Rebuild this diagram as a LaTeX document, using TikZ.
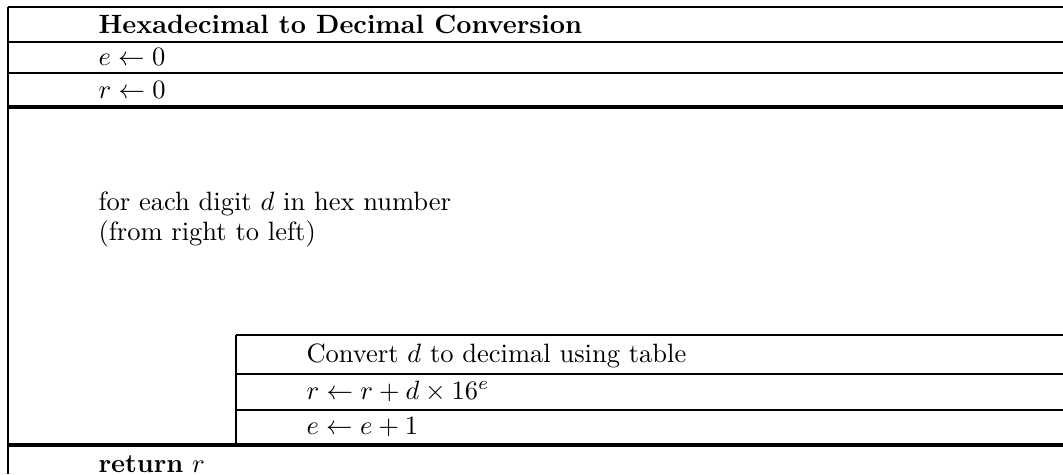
\documentclass[tikz,border=0pt]{standalone}
\begin{document}
\begin{tikzpicture}[x=0.3774pt,y=-0.3774pt,
  rule/.style={line width=0.95pt},
  heavy/.style={line width=1.35pt},
  lbl/.style={anchor=base west, inner sep=0pt}]
\useasboundingbox (0,0) rectangle (1063,474);
% outer frame
\draw[rule] (8,7) -- (1063,7);
\draw[rule] (8,42) -- (1063,42);
\draw[rule] (8,73) -- (1063,73);
\draw[heavy] (8,107) -- (1063,107);
\draw[heavy] (8,445) -- (1063,445);
\draw[rule] (8,7) -- (8,474);
% loop body
\draw[rule] (236,335) -- (1063,335);
\draw[rule] (236,374) -- (1063,374);
\draw[rule] (236,410) -- (1063,410);
\draw[rule] (236,335) -- (236,445);
% texts
\node[lbl] (title) at (98,33) {\textbf{Hexadecimal to Decimal Conversion}};
\node[lbl] (e0) at (98,65) {$e \leftarrow 0$};
\node[lbl] (r0) at (98,98) {$r \leftarrow 0$};
\node[lbl] (loop1) at (98,210) {for each digit $d$ in hex number};
\node[lbl] (loop2) at (98,240) {(from right to left)};
\node[lbl] (conv) at (306,362) {Convert $d$ to decimal using table};
\node[lbl] (racc) at (306,399) {$r \leftarrow r + d \times 16^{e}$};
\node[lbl] (einc) at (306,434) {$e \leftarrow e + 1$};
\node[lbl] (ret) at (98,472) {\textbf{return} $r$};
\end{tikzpicture}
\end{document}
